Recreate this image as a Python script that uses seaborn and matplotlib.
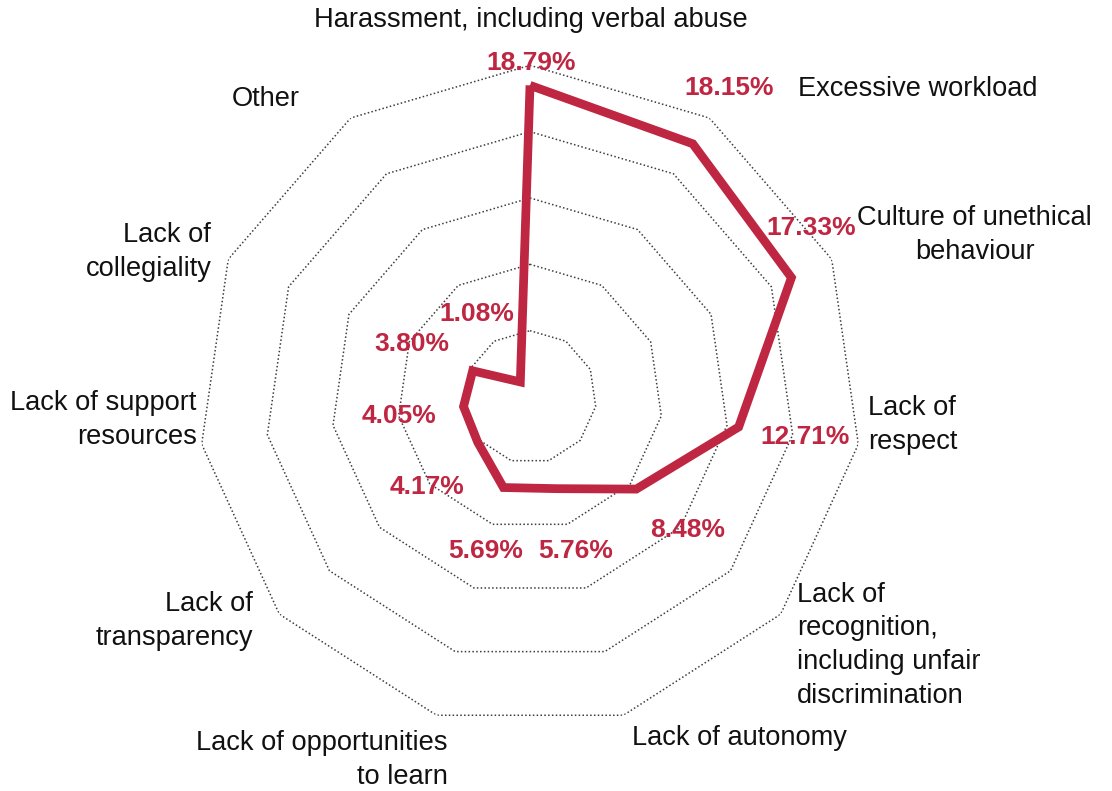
import numpy as np
import pandas as pd
import matplotlib
matplotlib.use("Agg")
import matplotlib.pyplot as plt
import seaborn as sns

# Reasons for leaving, share of respondents (%)
categories = [
    "Harassment, including verbal abuse",
    "Excessive workload",
    "Culture of unethical\nbehaviour",
    "Lack of\nrespect",
    "Lack of\nrecognition,\nincluding unfair\ndiscrimination",
    "Lack of autonomy",
    "Lack of opportunities\nto learn",
    "Lack of\ntransparency",
    "Lack of support\nresources",
    "Lack of\ncollegiality",
    "Other",
]
shares = [18.79, 18.15, 17.33, 12.71, 8.48, 5.76, 5.69, 4.17, 4.05, 3.80, 1.08]
value_labels = [f"{v:.2f}%" for v in shares]
ring_levels = [4, 8, 12, 16, 20]

# Label placement (offsets in pixels from the anchor point) and alignment
cat_offsets = [(1, 45), (89, 29), (143, 24), (10, 19), (16, -31), (9, -23),
               (11, -45), (-26, -7), (-5, 24), (-17, 7), (-51, 19)]
cat_ha = ["center", "left", "center", "left", "left", "left",
          "right", "right", "right", "right", "right"]
val_offsets = [(1, 22), (36, 56), (20, 50), (66, -10), (51, -41), (19, -62),
               (-18, -63), (-51, -45), (-65, -9), (-61, 27), (-44, 68)]

RED = "#BE2642"
W, H = 1112, 791

sns.set_theme(style="white")
plt.rcParams["font.family"] = ["Liberation Sans", "DejaVu Sans"]

fig = plt.figure(figsize=(W / 100, H / 100), dpi=100)
cx, cy, R = 530, 397, 331.7
ax = fig.add_axes([(cx - R) / W, (H - cy - R) / H, 2 * R / W, 2 * R / H],
                  projection="polar")
ax.set_theta_offset(np.pi / 2)
ax.set_theta_direction(-1)
ax.set_ylim(0, 20)
ax.axis("off")

n = len(categories)
theta = np.linspace(0, 2 * np.pi, n, endpoint=False)
theta_closed = np.append(theta, theta[0])

# Dotted polygon gridlines
for lvl in ring_levels:
    ax.plot(theta_closed, [lvl] * (n + 1), color="#3d3d3d",
            linestyle=(0, (1, 1.5)), linewidth=1.1, zorder=1)

# Data polygon
df = pd.DataFrame({"theta": theta_closed, "share": shares + [shares[0]]})
sns.lineplot(data=df, x="theta", y="share", sort=False, estimator=None,
             color=RED, linewidth=6.3, ax=ax, zorder=3)
for line in ax.lines[-1:]:
    line.set_solid_joinstyle("miter")
    line.set_solid_capstyle("butt")

# Category labels anchored on the outer ring
for k in range(n):
    ax.annotate(categories[k], xy=(theta[k], ring_levels[-1]),
                xytext=cat_offsets[k], textcoords="offset pixels",
                ha=cat_ha[k], va="center", fontsize=19.6, color="#111111",
                linespacing=1.38, annotation_clip=False, zorder=4)

# Value labels anchored on each data point
for k in range(n):
    ax.annotate(value_labels[k], xy=(theta[k], shares[k]),
                xytext=val_offsets[k], textcoords="offset pixels",
                ha="center", va="center", fontsize=19, fontweight="bold",
                color=RED, annotation_clip=False, zorder=5)

fig.savefig("out.png", dpi=100)
